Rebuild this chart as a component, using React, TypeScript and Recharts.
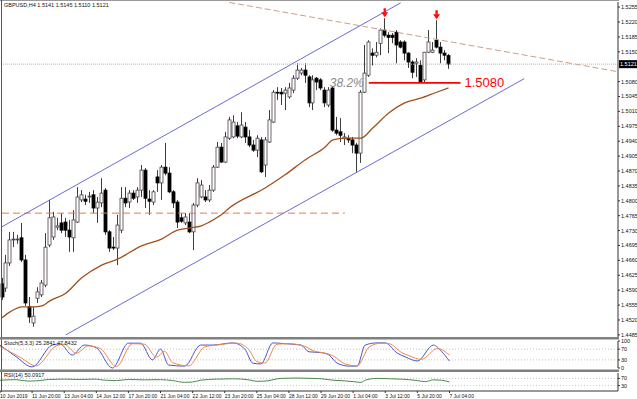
import React from "react";
import { ComposedChart, Bar, Line, XAxis, YAxis, ReferenceLine } from "recharts";

// GBPUSD H4 candles
const opens = [
  1.4605, 1.4595, 1.4654, 1.4708, 1.4708, 1.4713, 1.4661, 1.4551, 1.4513, 1.4571,
  1.4579, 1.4602, 1.4696, 1.4715, 1.4738, 1.4748, 1.475, 1.4731, 1.4713, 1.475,
  1.4802, 1.4804, 1.4809, 1.4814, 1.4783, 1.4795, 1.4825, 1.4727, 1.4691, 1.4689,
  1.4731, 1.4806, 1.4797, 1.4818, 1.4809, 1.4825, 1.4872, 1.4804, 1.4797, 1.4856,
  1.4842, 1.4879, 1.4865, 1.4821, 1.4797, 1.476, 1.4748, 1.475, 1.4727, 1.479,
  1.4809, 1.4809, 1.4802, 1.4825, 1.4879, 1.4926, 1.4891, 1.4947, 1.495, 1.4976,
  1.495, 1.4973, 1.495, 1.4931, 1.4919, 1.4943, 1.4884, 1.4938, 1.4985, 1.5055,
  1.5055, 1.5053, 1.5044, 1.506, 1.5088, 1.51, 1.5107, 1.5091, 1.503, 1.5088,
  1.5084, 1.506, 1.5025, 1.5065, 1.4966, 1.4962, 1.4947, 1.4947, 1.4943, 1.4931,
  1.4912, 1.5055, 1.5095, 1.5147, 1.5142, 1.517, 1.5201, 1.5189, 1.5189, 1.5196,
  1.5173, 1.5173, 1.5147, 1.5126, 1.5123, 1.5118, 1.5084, 1.5149, 1.5149, 1.5177,
  1.5161, 1.5147, 1.5141,
];
const highs = [
  1.4619, 1.4673, 1.4727, 1.4727, 1.472, 1.4748, 1.4673, 1.4574, 1.4551, 1.4597,
  1.4614, 1.4724, 1.4802, 1.4774, 1.476, 1.4771, 1.476, 1.4755, 1.4778, 1.4832,
  1.4825, 1.4814, 1.4821, 1.4825, 1.4809, 1.4853, 1.483, 1.4731, 1.4715, 1.4767,
  1.4832, 1.4832, 1.4825, 1.4825, 1.4832, 1.4884, 1.4877, 1.4825, 1.4825, 1.4872,
  1.4884, 1.4936, 1.4879, 1.4825, 1.4802, 1.4771, 1.4771, 1.4771, 1.4795, 1.4853,
  1.4849, 1.4825, 1.4837, 1.4884, 1.4938, 1.4936, 1.4962, 1.4997, 1.5001, 1.4985,
  1.5008, 1.4985, 1.4966, 1.4943, 1.4954, 1.495, 1.495, 1.5013, 1.506, 1.5067,
  1.5065, 1.5067, 1.5077, 1.5095, 1.5123, 1.5112, 1.5123, 1.5095, 1.5095, 1.5091,
  1.5088, 1.5067, 1.5067, 1.5067, 1.4997, 1.4994, 1.4959, 1.4954, 1.495, 1.4936,
  1.506, 1.5166, 1.5177, 1.5158, 1.5173, 1.5205, 1.5229, 1.5196, 1.5194, 1.5201,
  1.5177, 1.5177, 1.5149, 1.513, 1.5135, 1.513, 1.5149, 1.5201, 1.5173, 1.5224,
  1.5173, 1.5154, 1.5145,
];
const lows = [
  1.4567, 1.4586, 1.4647, 1.4691, 1.4699, 1.4656, 1.4553, 1.4513, 1.4504, 1.456,
  1.4574, 1.4597, 1.4691, 1.4708, 1.4731, 1.4724, 1.4715, 1.468, 1.468, 1.4748,
  1.4797, 1.479, 1.4795, 1.4771, 1.4748, 1.4785, 1.472, 1.468, 1.4684, 1.4649,
  1.4724, 1.4785, 1.4783, 1.4802, 1.4795, 1.4809, 1.4783, 1.4767, 1.479, 1.4821,
  1.4802, 1.486, 1.4818, 1.4783, 1.4736, 1.4748, 1.4743, 1.4724, 1.4684, 1.4785,
  1.4806, 1.4797, 1.4797, 1.4821, 1.4877, 1.4889, 1.4889, 1.4943, 1.4947, 1.4947,
  1.4947, 1.4936, 1.4926, 1.4915, 1.4903, 1.4865, 1.4856, 1.4936, 1.4983, 1.5037,
  1.5025, 1.5013, 1.504, 1.5053, 1.5084, 1.5095, 1.5077, 1.502, 1.5013, 1.506,
  1.506, 1.502, 1.502, 1.4962, 1.4954, 1.4938, 1.4931, 1.4936, 1.4912, 1.4868,
  1.4889, 1.5053, 1.5091, 1.5118, 1.5137, 1.5142, 1.5184, 1.5147, 1.517, 1.5123,
  1.5158, 1.513, 1.5112, 1.5088, 1.5091, 1.5077, 1.5079, 1.5147, 1.5147, 1.5158,
  1.5123, 1.513, 1.511,
];
const closes = [
  1.4574, 1.4654, 1.4708, 1.471, 1.471, 1.4661, 1.456, 1.4527, 1.4529, 1.4586,
  1.4607, 1.4691, 1.476, 1.4762, 1.4741, 1.4731, 1.4731, 1.4715, 1.4755, 1.4809,
  1.4814, 1.4799, 1.4811, 1.4783, 1.4797, 1.4818, 1.4727, 1.4689, 1.4689, 1.4743,
  1.4806, 1.4795, 1.4818, 1.4806, 1.4825, 1.4872, 1.4806, 1.4799, 1.4821, 1.4842,
  1.4879, 1.4865, 1.4821, 1.4795, 1.475, 1.4752, 1.4762, 1.4727, 1.479, 1.4842,
  1.4837, 1.4802, 1.4825, 1.4879, 1.4926, 1.4891, 1.495, 1.499, 1.4985, 1.4952,
  1.4978, 1.495, 1.4931, 1.4919, 1.4947, 1.4868, 1.4943, 1.499, 1.5055, 1.5053,
  1.5051, 1.506, 1.5065, 1.5088, 1.5107, 1.5107, 1.5095, 1.503, 1.5084, 1.5079,
  1.5065, 1.503, 1.506, 1.4966, 1.4959, 1.4954, 1.495, 1.4943, 1.4931, 1.4912,
  1.5055, 1.51, 1.5173, 1.5142, 1.5149, 1.5201, 1.5189, 1.5184, 1.5184, 1.5166,
  1.5161, 1.5147, 1.5126, 1.5102, 1.5126, 1.5079, 1.5149, 1.5173, 1.5154, 1.5161,
  1.5147, 1.5142, 1.5121,
];

// moving average, read at the bars where it could be seen
const maPoints: [number, number][] = [
  [0, 1.4525], [2, 1.4539], [5, 1.4551], [8, 1.4551], [10, 1.4553], [12, 1.4565],
  [16, 1.4583], [20, 1.4619], [25, 1.4649], [29, 1.4663], [35, 1.4694], [40, 1.471],
  [44, 1.4731], [47, 1.4736], [50, 1.4741], [52, 1.475], [55, 1.4767], [57, 1.4783],
  [66, 1.483], [71, 1.4861], [76, 1.4896], [81, 1.4926], [83, 1.4943], [86, 1.4947],
  [90, 1.4947], [93, 1.4971], [97, 1.5006], [101, 1.503], [105, 1.5041], [109, 1.5055],
  [112, 1.5065],
];

const stochMain: [number, number][] = [
  [0, 85], [4, 42], [8, 4], [13, 85], [15, 89], [18, 48], [21, 85], [24, 75], [28, 0],
  [32, 92], [35, 92], [38, 30], [40, 70], [42, 11], [46, 7], [50, 85], [53, 85], [58, 93],
  [61, 70], [63, 18], [65, 15], [68, 93], [71, 90], [75, 85], [77, 60], [80, 57], [82, 48],
  [84, 18], [87, 7], [89, 7], [91, 85], [94, 93], [96, 93], [99, 55], [101, 41], [104, 26],
  [108, 85], [110, 62], [112, 25.3],
];
const stochSignal: [number, number][] = [
  [0, 80], [5, 40], [9, 8], [14, 82], [16, 88], [19, 55], [22, 82], [25, 72], [29, 5],
  [33, 90], [36, 88], [39, 40], [41, 62], [43, 20], [47, 8], [51, 78], [54, 85], [59, 92],
  [62, 68], [64, 24], [66, 18], [69, 88], [72, 90], [76, 80], [78, 64], [81, 55], [83, 45],
  [86, 15], [89, 8], [92, 78], [95, 92], [97, 90], [100, 58], [102, 45], [105, 32],
  [109, 72], [112, 47.8],
];
const rsiPoints: [number, number][] = [
  [0, 60], [4, 63], [7, 55], [10, 58], [12, 64], [16, 66], [20, 64], [24, 66], [26, 60],
  [29, 58], [32, 64], [36, 62], [40, 63], [43, 58], [46, 48], [48, 50], [50, 60], [54, 66],
  [58, 68], [62, 62], [64, 54], [66, 55], [70, 70], [74, 72], [78, 70], [80, 68], [83, 60],
  [86, 56], [88, 52], [90, 48], [91, 60], [94, 70], [97, 68], [100, 66], [104, 58],
  [106, 52], [108, 62], [110, 60], [112, 50.1],
];

const timeLabels = [
  "10 Jun 2019", "11 Jun 20:00", "13 Jun 04:00", "14 Jun 12:00", "17 Jun 20:00",
  "21 Jun 04:00", "22 Jun 12:00", "23 Jun 20:00", "25 Jun 04:00", "28 Jun 12:00",
  "29 Jun 20:00", "1 Jul 04:00", "3 Jul 12:00", "5 Jul 20:00", "7 Jul 04:00",
];
const priceTicks = [
  1.4485, 1.452, 1.4555, 1.459, 1.4625, 1.466, 1.4695, 1.473, 1.4765, 1.48, 1.4835,
  1.487, 1.4905, 1.494, 1.4975, 1.501, 1.5045, 1.508, 1.515, 1.5185, 1.522, 1.5255,
];
const fractalBars = [96, 109];
const channelUpper = [{ x: 0, y: 1.4739 }, { x: 100, y: 1.5265 }];
const channelLower = [{ x: 16, y: 1.4485 }, { x: 131, y: 1.5087 }];
const resistance = [{ x: 57, y: 1.5266 }, { x: 154, y: 1.5104 }];
const support = [{ x: 0, y: 1.4771 }, { x: 86, y: 1.4771 }];
const target = [{ x: 92, y: 1.5077 }, { x: 115, y: 1.5077 }];

const TOTAL = 155;
const W = 637;
const AXIS_W = 19;
const FONT = "Liberation Sans, Arial, sans-serif";

const toMap = (pts: [number, number][]) => new Map(pts);
const maMap = toMap(maPoints);
const kMap = toMap(stochMain);
const dMap = toMap(stochSignal);
const rsiMap = toMap(rsiPoints);

const table = Array.from({ length: TOTAL }, (_, i) => {
  const has = i < opens.length;
  return {
    i,
    range: has ? [lows[i], highs[i]] : null,
    o: has ? opens[i] : null,
    h: has ? highs[i] : null,
    l: has ? lows[i] : null,
    c: has ? closes[i] : null,
    ma: maMap.get(i) ?? null,
    k: kMap.get(i) ?? null,
    d: dMap.get(i) ?? null,
    rsi: rsiMap.get(i) ?? null,
    fractal: fractalBars.includes(i) ? highs[i] : null,
  };
});

const lastClose = closes[closes.length - 1];

function Candle(props: any) {
  const { x, y, width, height, payload } = props;
  if (!payload || payload.o == null) return null;
  const { o, h, l, c } = payload;
  const top = Math.min(y, y + height);
  const hgt = Math.abs(height);
  const cx = Math.round(x + width / 2) + 0.5;
  const span = h - l || 1e-9;
  const py = (v: number) => top + ((h - v) / span) * hgt;
  const bTop = py(Math.max(o, c));
  const bBot = py(Math.min(o, c));
  const up = c >= o;
  return (
    <g>
      <line x1={cx} x2={cx} y1={top} y2={top + hgt} stroke="#3a3f3a" strokeWidth={1} />
      <rect
        x={cx - 1.5}
        y={bTop}
        width={3}
        height={Math.max(bBot - bTop, 0.8)}
        fill={up ? "#ffffff" : "#000000"}
        stroke={up ? "#4a3f4a" : "#000"}
        strokeWidth={0.8}
      />
    </g>
  );
}

const tickStyle = { fontSize: 5.5, fill: "#111", fontFamily: FONT };

function TimeTick(props: any) {
  const { x, y, payload } = props;
  const label = timeLabels[Math.round(payload.value / 8)] ?? "";
  return (
    <g>
      <line x1={x} x2={x} y1={y} y2={y + 2} stroke="#333" />
      <text x={x} y={y + 6.5} fontSize={5} fontFamily={FONT} fill="#111" textAnchor="start">
        {label}
      </text>
    </g>
  );
}

export default function App() {
  return (
    <div style={{ position: "absolute", left: 0, top: 0, width: W, height: 399, background: "#fff", overflow: "hidden" }}>
      <div style={{ position: "absolute", left: 0, top: 0 }}>
        <ComposedChart width={W} height={338} data={table} margin={{ top: 2, right: 0, left: 0, bottom: 1 }}>
          <XAxis dataKey="i" hide />
          <YAxis
            orientation="right"
            width={AXIS_W}
            domain={[1.448, 1.5267]}
            allowDataOverflow
            ticks={priceTicks}
            interval={0}
            tickFormatter={(v: number) => v.toFixed(4)}
            tick={tickStyle}
            tickSize={2}
            tickMargin={1}
            stroke="#333"
          />
          <ReferenceLine segment={support} stroke="#e8784a" strokeDasharray="7 4" strokeWidth={1} />
          <ReferenceLine segment={channelUpper} stroke="#6a6ad8" strokeWidth={1} />
          <ReferenceLine segment={channelLower} stroke="#6a6ad8" strokeWidth={1} />
          <ReferenceLine segment={resistance} stroke="#c9a08a" strokeDasharray="6 3" strokeWidth={1} />
          <ReferenceLine
            y={lastClose}
            stroke="#9fbcc0"
            strokeDasharray="1 1"
            label={(p: any) => {
              const vb = p.viewBox;
              return (
                <g>
                  <rect x={vb.x + vb.width + 1} y={vb.y - 4} width={18} height={8} fill="#000" />
                  <text x={vb.x + vb.width + 2} y={vb.y + 2} fontSize={5.5} fontFamily={FONT} fill="#fff">
                    {lastClose.toFixed(4)}
                  </text>
                </g>
              );
            }}
          />
          <Bar dataKey="range" barSize={3} isAnimationActive={false} shape={(p: any) => <Candle {...p} />} />
          <Line
            dataKey="ma"
            type="monotone"
            connectNulls
            stroke="#a0501c"
            strokeWidth={1.3}
            dot={false}
            activeDot={false}
            isAnimationActive={false}
          />
          <ReferenceLine
            segment={target}
            stroke="#ff0000"
            strokeWidth={1.6}
            label={(p: any) => {
              const vb = p.viewBox;
              return (
                <g>
                  <text x={vb.x - 5} y={vb.y + 4} fontSize={12} fontStyle="italic" fontFamily={FONT} fill="#8a8a8a" textAnchor="end">
                    38.2%
                  </text>
                  <text x={vb.x + vb.width + 4} y={vb.y + 4.5} fontSize={13} fontFamily={FONT} fill="#ff0000">
                    1.5080
                  </text>
                </g>
              );
            }}
          />
          <Line
            dataKey="fractal"
            stroke="none"
            isAnimationActive={false}
            activeDot={false}
            dot={(p: any) => {
              const { cx, cy, value, index } = p;
              if (value == null || cy == null) return <g key={index} />;
              return (
                <path
                  key={index}
                  d={`M${cx - 1.2},${cy - 10} h2.4 v4 h2.3 l-3.5,5 l-3.5,-5 h2.3 z`}
                  fill="#ff1010"
                />
              );
            }}
          />
        </ComposedChart>
      </div>

      <div style={{ position: "absolute", left: 0, top: 339 }}>
        <ComposedChart width={W} height={31} data={table} margin={{ top: 2, right: 0, left: 0, bottom: 2 }}>
          <XAxis dataKey="i" hide />
          <YAxis
            orientation="right"
            width={AXIS_W}
            domain={[0, 100]}
            ticks={[0, 30, 70, 100]}
            interval={0}
            tick={tickStyle}
            tickSize={2}
            tickMargin={1}
            stroke="#333"
          />
          <ReferenceLine y={70} stroke="#bcc8b8" strokeDasharray="1 2" />
          <ReferenceLine y={30} stroke="#bcc8b8" strokeDasharray="1 2" />
          <Line dataKey="k" type="monotone" connectNulls stroke="#4a55d0" strokeWidth={1} dot={false} activeDot={false} isAnimationActive={false} />
          <Line dataKey="d" type="monotone" connectNulls stroke="#f08848" strokeWidth={1} dot={false} activeDot={false} isAnimationActive={false} />
        </ComposedChart>
      </div>

      <div style={{ position: "absolute", left: 0, top: 372 }}>
        <ComposedChart width={W} height={27} data={table} margin={{ top: 1, right: 0, left: 0, bottom: 0 }}>
          <XAxis
            dataKey="i"
            height={8}
            ticks={timeLabels.map((_, k) => k * 8)}
            interval={0}
            tick={(p: any) => <TimeTick {...p} />}
            tickLine={false}
            tickSize={0}
            tickMargin={0}
            stroke="#333"
          />
          <YAxis
            orientation="right"
            width={AXIS_W}
            domain={[0, 100]}
            ticks={[30, 70]}
            interval={0}
            tick={tickStyle}
            tickSize={2}
            tickMargin={1}
            stroke="#333"
          />
          <ReferenceLine y={70} stroke="#bcc8c8" strokeDasharray="1 2" />
          <ReferenceLine y={30} stroke="#bcc8c8" strokeDasharray="1 2" />
          <Line dataKey="rsi" type="monotone" connectNulls stroke="#4a8a4a" strokeWidth={1} dot={false} activeDot={false} isAnimationActive={false} />
        </ComposedChart>
      </div>

      <svg width={W} height={399} style={{ position: "absolute", left: 0, top: 0, pointerEvents: "none" }}>
        <line x1={0} x2={619} y1={0.5} y2={0.5} stroke="#999" />
        <line x1={1.5} x2={1.5} y1={0} y2={392} stroke="#555" />
        <rect x={0} y={337} width={619} height={2.5} fill="#808080" />
        <rect x={0} y={369.5} width={619} height={2.5} fill="#808080" />
        <text x={4} y={7} fontSize={5.5} fontFamily={FONT} fill="#111">
          GBPUSD,H4  1.5141 1.5145 1.5110 1.5121
        </text>
        <text x={4} y={345} fontSize={5.5} fontFamily={FONT} fill="#111">
          Stoch(5,3,3) 25.2841 47.8432
        </text>
        <text x={4} y={377} fontSize={5.5} fontFamily={FONT} fill="#111">
          RSI(14) 50.0917
        </text>
      </svg>
    </div>
  );
}
